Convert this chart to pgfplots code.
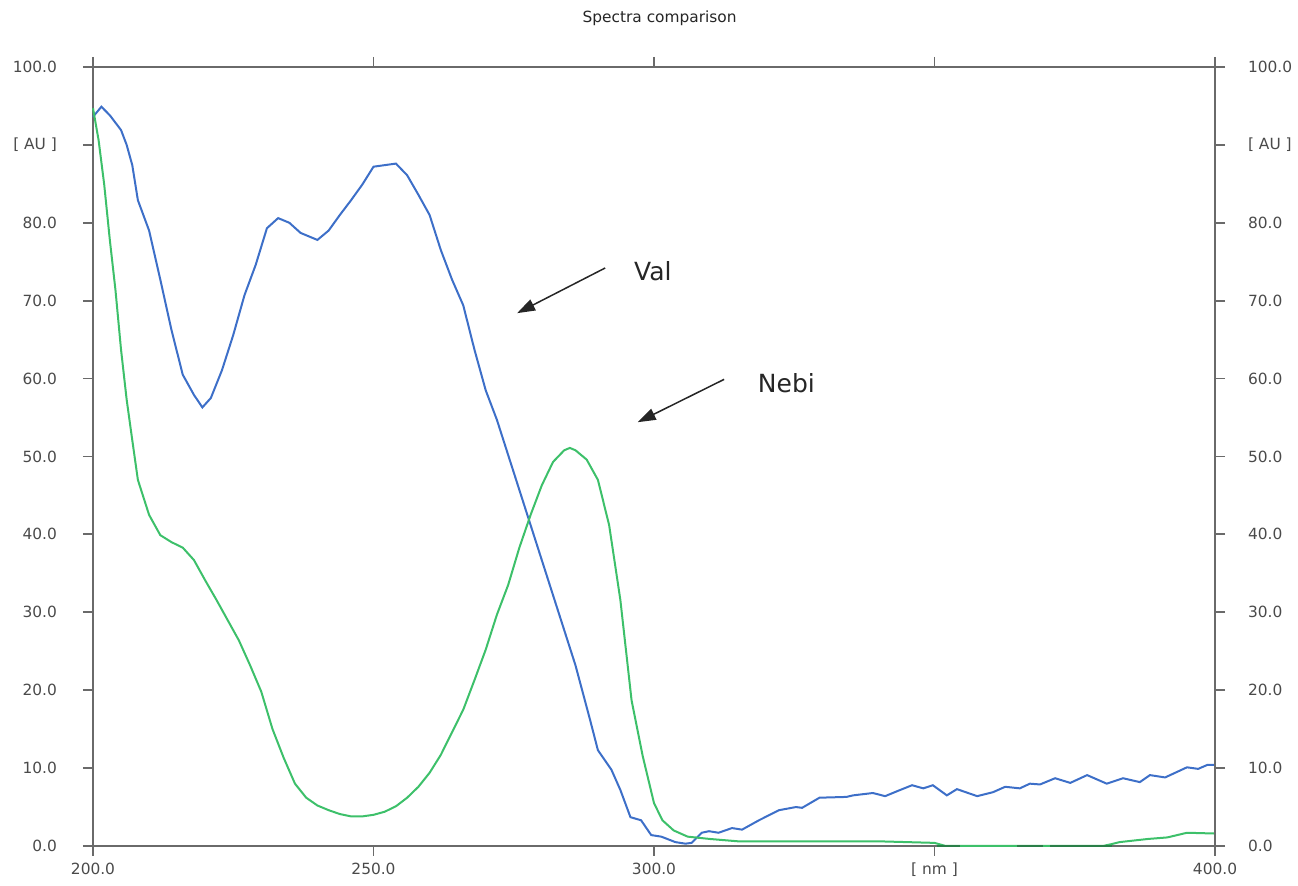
\documentclass[border=0pt]{standalone}
\usepackage{fontspec}
\setmainfont{DejaVu Sans}
\usepackage{pgfplots}
\pgfplotsset{compat=1.18}
\usetikzlibrary{arrows.meta}
\definecolor{valblue}{HTML}{3D6FC8}
\definecolor{nebigreen}{HTML}{3DC06A}
\definecolor{darkgr}{HTML}{2A7E48}
\definecolor{axgray}{HTML}{6A6A6A}
\definecolor{lblgray}{HTML}{4A4A4A}
\begin{document}
\begin{tikzpicture}
\pgfplotsset{
  common/.style={
    scale only axis, width=561pt, height=389.5pt,
    xmin=200, xmax=400, ymin=0, ymax=100,
    axis line style={axgray, line width=0.9pt},
    tick style={axgray, line width=0.9pt},
    tick align=outside, major tick length=5pt,
    ytick={0,10,...,100},
    yticklabels={0.0,10.0,20.0,30.0,40.0,50.0,60.0,70.0,80.0,{[ AU ]},100.0},
    ticklabel style={font=\fontsize{7.7}{9}\selectfont, text=lblgray},
  }
}
\begin{axis}[common,
  xtick={200,250,300,350,400},
  xticklabels={200.0,250.0,300.0,{[ nm ]},400.0},
  xtick pos=both, xticklabel pos=bottom,
  ytick pos=left,
  yticklabel style={xshift=-9.5pt},
  clip=false,
]
\addplot[valblue, line width=1pt] coordinates {
(200,93.6)(201.5,94.9)(203,93.8)(205,91.9)(206,90)(207,87.4)(208,82.9)(210,79)(212,72.7)(214,66.2)(216,60.5)(218,57.9)(219.5,56.3)(221,57.5)(223,61.1)(225,65.6)(227,70.7)(229,74.6)(231,79.3)(233,80.6)(235,80)(237,78.7)(240,77.8)(242,79)(244,81)(246,82.9)(248,84.9)(250,87.2)(252,87.4)(254,87.6)(256,86.1)(258,83.6)(260,81)(262,76.5)(264,72.7)(266,69.4)(268,63.7)(270,58.5)(272,54.7)(274,50.2)(276,45.7)(278,41.2)(280,36.7)(282,32.2)(284,27.7)(286,23.2)(288.6,16.2)(290,12.3)(292.4,9.8)(294,7.2)(295.8,3.7)(297.7,3.3)(299.5,1.4)(301.3,1.2)(303.8,0.5)(305.6,0.3)(306.7,0.4)(308.5,1.7)(309.8,1.9)(311.5,1.7)(313.9,2.3)(315.7,2.1)(318.7,3.3)(322.3,4.6)(325.3,5.0)(326.4,4.9)(329.5,6.2)(334.3,6.3)(335.5,6.5)(339,6.8)(341.2,6.4)(343.9,7.2)(346,7.8)(348,7.4)(349.7,7.8)(352.2,6.5)(354,7.3)(357.6,6.4)(360.4,6.9)(362.6,7.6)(365.2,7.4)(367,8.0)(368.8,7.9)(371.5,8.7)(374.2,8.1)(377.2,9.1)(380.7,8.0)(383.6,8.7)(386.6,8.2)(388.4,9.1)(391.1,8.8)(395,10.1)(397,9.9)(398.6,10.4)(400,10.4)
};
\addplot[nebigreen, line width=1pt] coordinates {
(200,94.7)(201,90.6)(202,84.9)(203,77.8)(204,71.4)(205,63.7)(206,57.3)(207,52.1)(208,47)(210,42.5)(212,39.9)(214,39)(216,38.3)(218,36.7)(220,34.1)(222,31.6)(224,29)(226,26.4)(228,23.2)(230,19.8)(232,15.0)(234,11.3)(236,8.0)(238,6.2)(240,5.2)(242,4.6)(244,4.1)(246,3.8)(248,3.8)(250,4.0)(252,4.4)(254,5.1)(256,6.2)(258,7.6)(260,9.4)(262,11.7)(264,14.6)(266,17.5)(268,21.3)(270,25.2)(272,29.7)(274,33.5)(276,38.3)(278,42.5)(280,46.3)(282,49.3)(284,50.8)(285,51.1)(286,50.8)(288,49.6)(290,47)(292,41.2)(294,31.6)(296,18.7)(298,11.5)(300,5.5)(301.5,3.3)(303.5,2.0)(306,1.2)(310,0.9)(315,0.6)(320,0.6)(330,0.6)(340,0.6)(345,0.5)(350,0.4)(352,0)(370,0)(380,0)(381.3,0.2)(383,0.5)(388,0.9)(391.5,1.1)(395,1.7)(400,1.6)
};
\addplot[darkgr, line width=1pt] coordinates {(350.4,0)(354.5,0)};
\addplot[darkgr, line width=1pt] coordinates {(364.7,0)(369.3,0)};
\addplot[darkgr, line width=1pt] coordinates {(370.6,0)(381.6,0)};
\draw[black!85, line width=0.75pt, -{Triangle[length=9pt,width=6pt]}] (axis cs:291.3,74.2) -- (axis cs:275.6,68.4);
\draw[black!85, line width=0.75pt, -{Triangle[length=9pt,width=6pt]}] (axis cs:312.5,59.9) -- (axis cs:297.1,54.4);
\node[font=\fontsize{12.5}{14}\selectfont, text=black!85] at (axis cs:299.8,73.8) {Val};
\node[font=\fontsize{12.5}{14}\selectfont, text=black!85] at (axis cs:323.6,59.4) {Nebi};
\node[font=\fontsize{7.7}{9}\selectfont, text=black!85] at (axis cs:301,106.2) {Spectra comparison};
\end{axis}
\begin{axis}[common,
  axis x line=none, axis y line*=right,
  yticklabel style={xshift=8pt},
]
\end{axis}
\pgfresetboundingbox
\path ([shift={(-46.5pt,-20pt)}]current axis.south west) rectangle ([shift={(41.5pt,33.5pt)}]current axis.north east);
\end{tikzpicture}
\end{document}
